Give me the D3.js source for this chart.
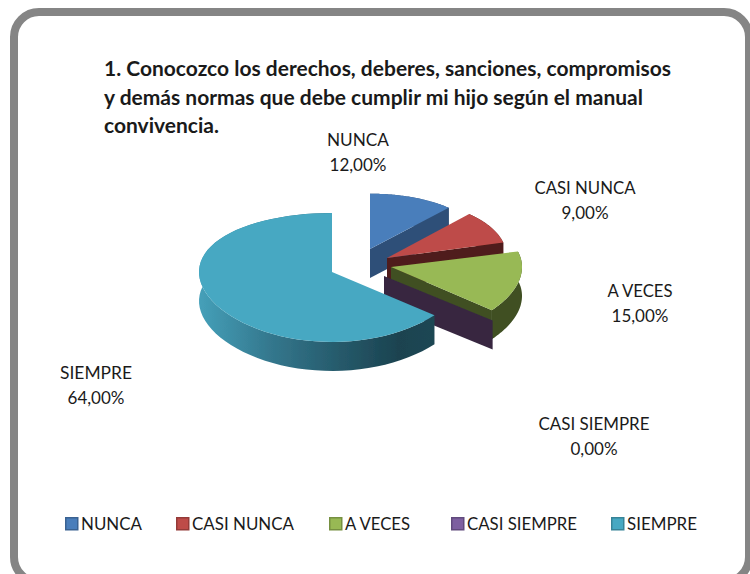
<!DOCTYPE html>
<html>
<head>
<meta charset="utf-8">
<script src="https://cdn.jsdelivr.net/npm/d3@7"></script>
<style>
html, body { margin: 0; padding: 0; background: #fff; }
svg { display: block; }
text { font-family: Lato, "Open Sans", sans-serif; fill: #1a1a1a; }
</style>
</head>
<body>
<svg width="750" height="574"></svg>
<script>
var categories = ["NUNCA", "CASI NUNCA", "A VECES", "CASI SIEMPRE", "SIEMPRE"];
var percents = [12, 9, 15, 0, 64];
var titleLines = [
  "1. Conocozco los derechos, deberes, sanciones, compromisos",
  "y demás normas que debe cumplir mi hijo según el manual",
  "convivencia."
];

var topColors = ["#4a7ebb", "#be4b48", "#98b954", "#7d5fa0", "#46a8c2"];
var faceColors = ["#2f5078", "#4f1c1a", "#3f4f22", "#372841", "#1d4653"];

// where each exploded slice sits on the page (apex, radii)
var slicePos = [
  {cx: 370, cy: 249, rx: 115, ry: 60},
  {cx: 387, cy: 258, rx: 120, ry: 64},
  {cx: 391, cy: 267, rx: 131, ry: 64},
  {cx: 384, cy: 276, rx: 141, ry: 66},
  {cx: 332, cy: 272, rx: 133, ry: 64}
];
var depth = 29, persp = 0.085;

var labelPos = [
  {x: 358, y: 146, w: 62},
  {x: 585, y: 194, w: 101},
  {x: 640, y: 297, w: 65},
  {x: 594, y: 430, w: 111},
  {x: 96, y: 379, w: 72}
];
var legendPos = [
  {x: 65, w: 61},
  {x: 176, w: 102},
  {x: 329, w: 65},
  {x: 451, w: 110},
  {x: 611, w: 70}
];
var titleWidths = [567, 539, 115];

var svg = d3.select("svg");

var locale = d3.formatLocale({decimal: ",", thousands: ".", grouping: [3], currency: ["", ""]});
var fmt = locale.format(".2f");

// frame
svg.append("rect")
    .attr("x", 14)
    .attr("y", 12)
    .attr("width", 735)
    .attr("height", 570)
    .attr("rx", 25)
    .attr("ry", 25)
    .attr("fill", "#fff")
    .attr("stroke", "#858585")
    .attr("stroke-width", 8);

// title
svg.append("g").selectAll("text")
    .data(titleLines)
  .enter().append("text")
    .attr("x", 104)
    .attr("y", function(d, i) { return 76 + i * 28.5; })
    .attr("font-size", 20)
    .attr("font-weight", 700)
    .attr("fill", "#111")
    .attr("textLength", function(d, i) { return titleWidths[i]; })
    .attr("lengthAdjust", "spacingAndGlyphs")
    .text(function(d) { return d; });

var pie = d3.pie().sort(null);
var arcs = pie(percents);

// angle -> page position, far side of the ellipse is squeezed a little
function project(p, a) {
  var X = Math.sin(a), Y = -Math.cos(a);
  var f = 1 / (1 - persp * Y);
  return [p.cx + p.rx * X, p.cy + p.ry * Y * f];
}

function rim(p, a0, a1) {
  var pts = [];
  d3.range(0, 61).forEach(function(k) {
    pts.push(project(p, a0 + (a1 - a0) * k / 60));
  });
  return pts;
}

var line = d3.line();

var defs = svg.append("defs");
var sideGrad = defs.append("linearGradient")
    .attr("id", "sideTeal")
    .attr("gradientUnits", "userSpaceOnUse")
    .attr("x1", 199).attr("y1", 0)
    .attr("x2", 433).attr("y2", 0);
sideGrad.selectAll("stop")
    .data([[0, "#45a0b9"], [0.3, "#34788e"], [0.6, "#265a6b"], [0.85, "#1b4350"], [1, "#1d4653"]])
  .enter().append("stop")
    .attr("offset", function(d) { return d[0]; })
    .attr("stop-color", function(d) { return d[1]; });

var soft = defs.append("filter").attr("id", "soft");
soft.append("feGaussianBlur").attr("stdDeviation", 0.5);

var pieG = svg.append("g").attr("filter", "url(#soft)");

arcs.forEach(function(d, i) {
  var p = slicePos[i];
  var g = pieG.append("g");
  var outer = rim(p, d.startAngle, d.endAngle);
  var lower = outer.map(function(q) { return [q[0], q[1] + depth]; }).reverse();

  // outer wall
  g.append("path")
      .attr("d", line(outer.concat(lower)) + "Z")
      .attr("fill", i == 4 ? "url(#sideTeal)" : faceColors[i]);

  // cut face at the end angle
  if (i < 4) {
    var e = project(p, d.endAngle);
    var face = [[p.cx, p.cy], e, [e[0], e[1] + depth], [p.cx, p.cy + depth]];
    g.append("path")
        .attr("d", line(face) + "Z")
        .attr("fill", faceColors[i]);
  }

  // top
  if (d.value > 0) {
    g.append("path")
        .attr("d", line([[p.cx, p.cy]].concat(outer)) + "Z")
        .attr("fill", topColors[i]);
  }
});

// data labels
var labels = svg.append("g").selectAll("g")
    .data(arcs)
  .enter().append("g");

labels.append("text")
    .attr("x", function(d, i) { return labelPos[i].x; })
    .attr("y", function(d, i) { return labelPos[i].y; })
    .attr("text-anchor", "middle")
    .attr("font-size", 17)
    .attr("textLength", function(d, i) { return labelPos[i].w; })
    .attr("lengthAdjust", "spacingAndGlyphs")
    .text(function(d, i) { return categories[i]; });

labels.append("text")
    .attr("x", function(d, i) { return labelPos[i].x; })
    .attr("y", function(d, i) { return labelPos[i].y + 25; })
    .attr("text-anchor", "middle")
    .attr("font-size", 17)
    .text(function(d) { return fmt(d.value) + "%"; });

// legend
var legend = svg.append("g").selectAll("g")
    .data(categories)
  .enter().append("g")
    .attr("transform", function(d, i) { return "translate(" + legendPos[i].x + ",517)"; });

legend.append("rect")
    .attr("x", 0.75)
    .attr("y", 0.75)
    .attr("width", 12)
    .attr("height", 12)
    .attr("fill", function(d, i) { return topColors[i]; })
    .attr("stroke", function(d, i) { return d3.color(topColors[i]).darker(0.7); })
    .attr("stroke-width", 1.5);

legend.append("text")
    .attr("x", 16)
    .attr("y", 13)
    .attr("font-size", 17)
    .attr("textLength", function(d, i) { return legendPos[i].w; })
    .attr("lengthAdjust", "spacingAndGlyphs")
    .text(function(d) { return d; });
</script>
</body>
</html>
